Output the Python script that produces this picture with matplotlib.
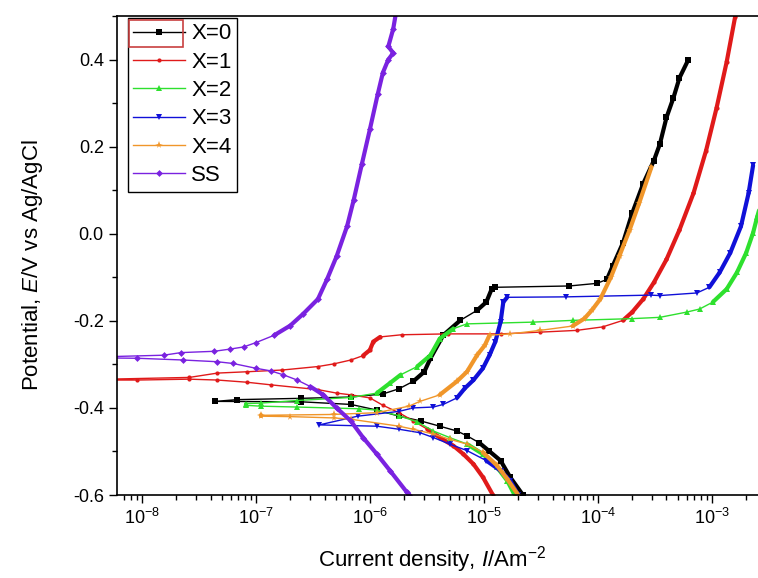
import matplotlib
matplotlib.use('Agg')
import numpy as np
import matplotlib.pyplot as plt
from matplotlib.patches import Rectangle
from matplotlib.collections import LineCollection
from matplotlib.ticker import LogLocator, MultipleLocator, FormatStrFormatter, LogFormatterMathtext

plt.rcParams['font.family'] = 'Liberation Sans'
plt.rcParams['mathtext.fontset'] = 'custom'
plt.rcParams['mathtext.rm'] = 'Liberation Sans'
plt.rcParams['mathtext.it'] = 'Liberation Sans:italic'
plt.rcParams['mathtext.default'] = 'regular'
plt.rcParams['axes.unicode_minus'] = False

# current density (A/m2) and potential (V vs Ag/AgCl)
# each scan: cathodic branch from -0.6 V up to Ecorr, then anodic branch
i_x0 = [2.2e-5, 1.7e-5, 1.4e-5, 1.1e-5, 9.1e-6, 7.1e-6, 5.8e-6, 4.1e-6, 2.8e-6, 1.8e-6,
        1.15e-6, 6.8e-7, 2.5e-7, 4.4e-8,
        6.8e-8, 2.5e-7, 6.8e-7, 1.3e-6, 1.8e-6, 2.4e-6, 3.0e-6, 3.4e-6, 4.4e-6, 6.2e-6,
        8.7e-6, 1.05e-5, 1.17e-5, 1.26e-5, 5.6e-5, 9.8e-5, 1.2e-4, 1.35e-4, 1.66e-4,
        2.0e-4, 2.5e-4, 3.1e-4, 3.5e-4, 4.0e-4, 4.6e-4, 5.2e-4, 6.2e-4]
E_x0 = [-0.600, -0.559, -0.521, -0.498, -0.480, -0.464, -0.453, -0.442, -0.430, -0.419,
        -0.405, -0.392, -0.386, -0.385,
        -0.381, -0.378, -0.375, -0.368, -0.356, -0.339, -0.317, -0.286, -0.233, -0.199,
        -0.176, -0.157, -0.127, -0.123, -0.120, -0.114, -0.105, -0.074, -0.021,
        0.047, 0.115, 0.168, 0.206, 0.267, 0.312, 0.358, 0.399]

i_x1 = [1.2e-5, 9.8e-6, 8.1e-6, 6.6e-6, 5.4e-6, 4.1e-6, 3.2e-6, 2.4e-6, 1.8e-6, 1.3e-6,
        1.0e-6, 6.8e-7, 5.1e-7, 3.5e-7, 1.35e-7, 8.3e-8, 4.6e-8, 2.6e-8, 9.1e-9, 5.0e-9,
        5.0e-9, 2.6e-8, 4.6e-8, 8.3e-8, 1.7e-7, 3.5e-7, 4.8e-7, 6.8e-7, 8.7e-7, 1.0e-6,
        1.07e-6, 1.23e-6, 1.9e-6, 4.8e-6, 1.4e-5, 3.1e-5, 6.5e-5, 1.1e-4, 1.66e-4, 2.0e-4,
        2.5e-4, 3.1e-4, 4.0e-4, 5.2e-4, 6.9e-4, 8.9e-4, 1.1e-3, 1.35e-3, 1.6e-3, 1.65e-3]
E_x1 = [-0.600, -0.559, -0.529, -0.506, -0.487, -0.468, -0.449, -0.430, -0.411, -0.394,
        -0.377, -0.370, -0.366, -0.358, -0.347, -0.341, -0.336, -0.334, -0.336, -0.336,
        -0.334, -0.330, -0.320, -0.317, -0.313, -0.305, -0.299, -0.290, -0.280, -0.267,
        -0.248, -0.237, -0.232, -0.230, -0.230, -0.226, -0.222, -0.214, -0.199, -0.180,
        -0.150, -0.112, -0.059, 0.009, 0.093, 0.191, 0.289, 0.395, 0.498, 0.510]

i_x2 = [1.86e-5, 1.6e-5, 1.3e-5, 9.8e-6, 7.1e-6, 5.0e-6, 3.6e-6, 2.6e-6, 1.8e-6, 1.15e-6,
        8.1e-7, 2.3e-7, 1.1e-7, 8.1e-8,
        8.1e-8, 1.1e-7, 2.3e-7, 6.8e-7, 1.15e-6, 1.5e-6, 1.86e-6, 2.6e-6, 3.4e-6, 4.1e-6,
        5.4e-6, 7.1e-6, 2.7e-5, 6.0e-5, 2.0e-4, 3.5e-4, 6.0e-4, 7.8e-4, 1.02e-3, 1.35e-3,
        1.66e-3, 2.0e-3, 2.3e-3, 2.5e-3, 2.7e-3]
E_x2 = [-0.600, -0.567, -0.536, -0.506, -0.483, -0.468, -0.453, -0.432, -0.418, -0.405,
        -0.402, -0.398, -0.396, -0.394,
        -0.390, -0.389, -0.383, -0.376, -0.366, -0.343, -0.324, -0.305, -0.279, -0.241,
        -0.218, -0.207, -0.203, -0.199, -0.195, -0.192, -0.180, -0.173, -0.157, -0.127,
        -0.089, -0.044, 0.002, 0.039, 0.070]

i_x3 = [2.0e-5, 1.7e-5, 1.4e-5, 1.05e-5, 7.1e-6, 5.0e-6, 3.6e-6, 2.75e-6, 1.8e-6, 1.15e-6,
        3.6e-7,
        7.8e-7, 1.8e-6, 2.4e-6, 3.6e-6, 4.4e-6, 5.8e-6, 6.8e-6, 8.1e-6, 9.8e-6, 1.12e-5,
        1.26e-5, 1.4e-5, 1.48e-5, 1.6e-5, 5.2e-5, 2.9e-4, 3.5e-4, 7.4e-4, 9.5e-4, 1.17e-3,
        1.45e-3, 1.8e-3, 2.1e-3, 2.3e-3]
E_x3 = [-0.600, -0.567, -0.544, -0.521, -0.498, -0.483, -0.468, -0.457, -0.449, -0.442,
        -0.439,
        -0.419, -0.408, -0.400, -0.398, -0.392, -0.377, -0.355, -0.336, -0.309, -0.279,
        -0.248, -0.203, -0.157, -0.146, -0.145, -0.141, -0.142, -0.136, -0.123, -0.089,
        -0.044, 0.017, 0.093, 0.157]

i_x4 = [2.0e-5, 1.6e-5, 1.3e-5, 9.8e-6, 7.1e-6, 5.0e-6, 3.6e-6, 2.4e-6, 1.8e-6, 6.8e-7,
        4.8e-7, 2.0e-7, 1.1e-7,
        1.1e-7, 4.8e-7, 1.15e-6, 2.2e-6, 2.75e-6, 4.1e-6, 5.8e-6, 7.1e-6, 8.7e-6, 1.02e-5,
        1.12e-5, 1.7e-5, 3.1e-5, 6.0e-5, 7.6e-5, 8.9e-5, 1.05e-4, 1.3e-4, 1.55e-4, 1.9e-4,
        2.3e-4, 2.95e-4]
E_x4 = [-0.600, -0.563, -0.532, -0.502, -0.483, -0.472, -0.460, -0.449, -0.442, -0.426,
        -0.423, -0.420, -0.419,
        -0.417, -0.415, -0.411, -0.396, -0.385, -0.370, -0.339, -0.317, -0.279, -0.256,
        -0.233, -0.230, -0.222, -0.212, -0.195, -0.175, -0.150, -0.100, -0.050, 0.009,
        0.070, 0.153]

i_ss = [2.2e-6, 2.1e-6, 1.5e-6, 1.15e-6, 8.7e-7, 6.8e-7, 5.1e-7, 3.9e-7, 3.0e-7, 2.3e-7,
        1.74e-7, 1.35e-7, 1.0e-7, 6.3e-8, 4.6e-8, 2.3e-8, 9.1e-9, 4.0e-9,
        4.0e-9, 1.55e-8, 2.2e-8, 4.3e-8, 5.9e-8, 7.8e-8, 1.0e-7, 1.45e-7, 2.0e-7, 2.6e-7,
        3.5e-7, 4.2e-7, 5.1e-7, 6.3e-7, 7.2e-7, 8.5e-7, 1.0e-6, 1.17e-6, 1.3e-6, 1.45e-6,
        1.6e-6, 1.45e-6, 1.6e-6, 1.7e-6]
E_ss = [-0.600, -0.593, -0.544, -0.506, -0.468, -0.430, -0.400, -0.370, -0.351, -0.336,
        -0.324, -0.315, -0.309, -0.298, -0.294, -0.290, -0.286, -0.285,
        -0.283, -0.279, -0.273, -0.270, -0.265, -0.260, -0.250, -0.233, -0.211, -0.184,
        -0.150, -0.105, -0.052, 0.017, 0.077, 0.160, 0.240, 0.320, 0.370, 0.400,
        0.415, 0.430, 0.470, 0.510]

labels = ['X=0', 'X=1', 'X=2', 'X=3', 'X=4', 'SS']
colors = ['#000000', '#e01a1a', '#2ee02e', '#1010d8', '#f0962a', '#7a22e0']
markers = ['s', 'o', '^', 'v', '*', 'D']
sizes = [4, 3, 4.5, 4.5, 5.5, 3.5]
series = [(i_x0, E_x0), (i_x1, E_x1), (i_x2, E_x2), (i_x3, E_x3), (i_x4, E_x4), (i_ss, E_ss)]

fig = plt.figure(figsize=(7.58, 5.78), dpi=100)
ax = fig.add_axes([117/758, 83/578, 641/758, 479/578])

ax.set_xscale('log')
ax.set_xlim(6.04e-9, 2.54e-3)
ax.set_ylim(-0.6, 0.5)

for (cur, pot), lab, c, m, s in zip(series, labels, colors, markers, sizes):
    ax.plot(cur, pot, color=c, lw=1.0, marker=m, ms=s, mew=0, label=lab)
    # steep parts of the scans were recorded densely -> they look like thick lines
    pts = np.column_stack([cur, pot])
    px = ax.transData.transform(pts)
    d = np.diff(px, axis=0)
    steep = np.abs(d[:, 1]) > 0.6 * np.abs(d[:, 0])
    segs = np.stack([pts[:-1], pts[1:]], axis=1)[steep]
    ax.add_collection(LineCollection(segs, colors=c, linewidths=3.0, capstyle='round'))

ax.xaxis.set_major_locator(LogLocator(base=10, numticks=20))
ax.xaxis.set_minor_locator(LogLocator(base=10, subs=range(2, 10), numticks=20))
ax.xaxis.set_major_formatter(LogFormatterMathtext())
ax.yaxis.set_major_locator(MultipleLocator(0.2))
ax.yaxis.set_minor_locator(MultipleLocator(0.1))
ax.yaxis.set_major_formatter(FormatStrFormatter('%.1f'))
ax.tick_params(which='major', direction='out', length=6, width=1, labelsize=13)
ax.tick_params(which='minor', direction='out', length=3.5, width=1)
ax.spines['right'].set_visible(False)
for sp in ['left', 'bottom', 'top']:
    ax.spines[sp].set_linewidth(1.2)

ax.set_xlabel('Current density, $\\mathit{I}$/Am$^{-2}$', fontsize=16)
ax.set_ylabel('Potential, $\\mathit{E}$/V vs Ag/AgCl', fontsize=16)
ax.xaxis.set_label_coords(0.491, -0.103)
ax.yaxis.set_label_coords(-0.112, 0.48)

leg = ax.legend(loc='upper left', bbox_to_anchor=(0.017, 0.996), fontsize=16,
                frameon=True, fancybox=False, edgecolor='black', framealpha=1,
                handlelength=2.3, handletextpad=0.3, borderpad=0.25, labelspacing=0.33,
                borderaxespad=0, numpoints=1)
leg.get_frame().set_linewidth(1.0)

fig.add_artist(Rectangle((129/758, 1 - 47/578), 54/758, 27/578, transform=fig.transFigure,
                         fill=False, edgecolor='#c84040', lw=1.2))

fig.savefig('out.png', dpi=100)
